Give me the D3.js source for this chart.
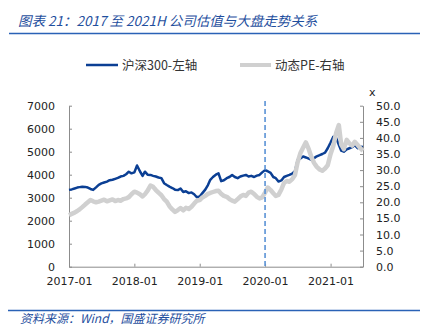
<!DOCTYPE html>
<html>
<head>
<meta charset="utf-8">
<script src="https://cdn.jsdelivr.net/npm/d3@7/dist/d3.min.js"></script>
<style>
  html, body { margin: 0; padding: 0; background: #fff; }
  svg { display: block; }
</style>
</head>
<body>
<svg id="chart" width="433" height="334"></svg>
<script>
// ---------- DATA ----------
const titleText = "图表 21：2017 至 2021H 公司估值与大盘走势关系";
const sourceText = "资料来源：Wind，国盛证券研究所";
const seriesNames = ["沪深300-左轴", "动态PE-右轴"];
const startDate = "2017-01-01";   // semi-monthly sampling from here
const xTickLabels = ["2017-01", "2018-01", "2019-01", "2020-01", "2021-01"];
const leftTicks = [0, 1000, 2000, 3000, 4000, 5000, 6000, 7000];
const rightTicks = [0, 5, 10, 15, 20, 25, 30, 35, 40, 45, 50];
const markerDate = "2020-01";

const csi300 = [
  // 2017
  3340, 3360, 3400, 3440, 3460, 3480, 3470, 3440, 3380, 3340, 3450, 3560,
  3620, 3660, 3700, 3760, 3780, 3820, 3860, 3920, 3950, 4020, 4130, 4060,
  // 2018
  4100, 4400, 4150, 3950, 4130, 4000, 3990, 3950, 3920, 3880, 3850, 3630,
  3550, 3480, 3420, 3350, 3330, 3400, 3250, 3280, 3200, 3230, 3150, 3020,
  // 2019
  3050, 3200, 3350, 3550, 3780, 3900, 4000, 4060, 3720, 3760, 3850, 3900,
  3990, 3900, 3850, 3920, 3960, 3990, 3920, 3950, 3900, 3960, 3990, 4100,
  // 2020
  4200, 4150, 4080, 3900, 3850, 3700, 3750, 3900, 3950, 3990, 4050, 4150,
  4640, 4700, 4790, 4750, 4700, 4650, 4720, 4800, 4850, 4900, 4960, 5150,
  // 2021
  5400, 5650, 5600, 5300, 5050, 5000, 5100, 5150, 5200, 5280, 5150, 5220, 5200
];

const pe = [
  // 2017
  16.0, 16.4, 16.8, 17.3, 17.8, 18.5, 19.3, 20.0, 20.7, 20.3, 20.0, 20.2,
  20.5, 20.8, 20.3, 20.6, 20.9, 20.4, 20.7, 20.5, 21.0, 21.2, 21.6, 22.5,
  // 2018
  23.3, 23.0, 22.5, 21.8, 22.5, 23.6, 25.2, 24.8, 23.8, 23.0, 22.2, 21.0,
  20.2, 18.8, 17.8, 17.0, 17.6, 18.2, 17.5, 18.3, 17.9, 18.6, 19.6, 20.5,
  // 2019
  20.7, 21.5, 22.0, 22.6, 22.9, 23.2, 23.5, 23.6, 22.6, 22.0, 21.7, 21.0,
  20.5, 20.2, 21.0, 21.8, 22.3, 22.0, 23.0, 23.3, 22.6, 21.7, 21.2, 21.5,
  // 2020
  23.0, 24.6, 23.8, 22.8, 22.0, 22.3, 24.0, 26.0, 26.6, 26.4, 27.2, 28.5,
  32.5, 35.2, 37.0, 38.6, 36.5, 34.0, 32.2, 31.0, 30.2, 29.8, 30.5, 31.5,
  // 2021
  35.0, 37.5, 41.5, 44.0, 38.0, 36.5, 39.4, 38.3, 37.6, 38.8, 37.8, 36.8, 36.0
];

// ---------- BUILD ----------
const parseDay = d3.timeParse("%Y-%m-%d");
const parseMonth = d3.timeParse("%Y-%m");
const t0 = parseDay(startDate);
const dates = csi300.map((_, i) => {
  const m = d3.timeMonth.offset(t0, Math.floor(i / 2));
  return i % 2 === 0 ? m : d3.timeDay.offset(m, 15);
});

const svg = d3.select("#chart");
const plot = { left: 69, right: 363, top: 105.7, bottom: 266.7 };

const x = d3.scaleTime()
  .domain([t0, dates[dates.length - 1]])
  .range([plot.left, plot.right]);
const yL = d3.scaleLinear().domain([0, 7000]).range([plot.bottom, plot.top]);
const yR = d3.scaleLinear().domain([0, 50]).range([plot.bottom, plot.top]);

const blue = "#0b3f94";
const grey = "#d0d0d0";
const titleBlue = "#1f4f9e";
const axisColor = "#8c8c8c";
const textColor = "#222";
const tickFont = "'DejaVu Sans', Verdana, sans-serif";
const cjkFont = "'Noto Sans CJK SC', 'Noto Sans', sans-serif";

// Title
svg.append("text")
  .attr("x", 18).attr("y", 26)
  .attr("font-family", cjkFont)
  .attr("font-style", "italic")
  .attr("font-size", 13.5)
  .attr("fill", titleBlue)
  .text(titleText);
svg.append("line")
  .attr("x1", 9).attr("x2", 420).attr("y1", 33.5).attr("y2", 33.5)
  .attr("stroke", "#2a62b6").attr("stroke-width", 1.6);

// Legend
const legend = [
  { name: seriesNames[0], color: blue, w: 2.5, x1: 86, x2: 118, tx: 122 },
  { name: seriesNames[1], color: grey, w: 4, x1: 240, x2: 271, tx: 275 }
];
legend.forEach(l => {
  svg.append("line")
    .attr("x1", l.x1).attr("x2", l.x2).attr("y1", 65).attr("y2", 65)
    .attr("stroke", l.color).attr("stroke-width", l.w);
  svg.append("text")
    .attr("x", l.tx).attr("y", 69.5)
    .attr("font-family", cjkFont).attr("font-size", 12.5)
    .attr("fill", "#333")
    .text(l.name);
});

// Axes
function styleAxis(g) {
  g.selectAll("path.domain").attr("stroke", axisColor).attr("stroke-width", 1);
  g.selectAll(".tick line").attr("stroke", axisColor);
  g.selectAll("text").attr("fill", textColor)
    .attr("font-family", tickFont).attr("font-size", 11);
}

svg.append("g")
  .attr("transform", `translate(${plot.left},0)`)
  .call(d3.axisLeft(yL).tickValues(leftTicks).tickFormat(d3.format("d"))
    .tickSizeInner(-3).tickSizeOuter(0).tickPadding(14))
  .call(styleAxis);

svg.append("g")
  .attr("transform", `translate(${plot.right},0)`)
  .call(d3.axisRight(yR).tickValues(rightTicks).tickFormat(d3.format(".1f"))
    .tickSizeInner(-3).tickSizeOuter(0).tickPadding(13))
  .call(styleAxis);

svg.append("g")
  .attr("transform", `translate(0,${plot.bottom})`)
  .call(d3.axisBottom(x).tickValues(xTickLabels.map(parseMonth))
    .tickFormat(d3.timeFormat("%Y-%m"))
    .tickSizeInner(-3).tickSizeOuter(0).tickPadding(11))
  .call(styleAxis);

// "x" unit label on right axis
svg.append("text")
  .attr("x", 369).attr("y", 96)
  .attr("font-family", tickFont).attr("font-size", 11)
  .attr("fill", textColor)
  .text("x");

// Lines
const lineL = d3.line().x((d, i) => x(dates[i])).y(d => yL(d));
const lineR = d3.line().x((d, i) => x(dates[i])).y(d => yR(d));

svg.append("path").datum(csi300)
  .attr("d", lineL).attr("fill", "none")
  .attr("stroke", blue).attr("stroke-width", 2.5)
  .attr("stroke-linejoin", "round");

svg.append("path").datum(pe)
  .attr("d", lineR).attr("fill", "none")
  .attr("stroke", grey).attr("stroke-width", 4.5)
  .attr("stroke-linejoin", "round");

// Dashed marker at 2020-01
const mx = x(parseMonth(markerDate));
svg.append("line")
  .attr("x1", mx).attr("x2", mx).attr("y1", 101).attr("y2", plot.bottom)
  .attr("stroke", "#5b93d6").attr("stroke-width", 1.6)
  .attr("stroke-dasharray", "5,3");

// Footer
svg.append("line")
  .attr("x1", 8).attr("x2", 420).attr("y1", 310.5).attr("y2", 310.5)
  .attr("stroke", "#2a62b6").attr("stroke-width", 1.3);
svg.append("text")
  .attr("x", 20).attr("y", 323)
  .attr("font-family", cjkFont)
  .attr("font-style", "italic")
  .attr("font-size", 12)
  .attr("fill", titleBlue)
  .text(sourceText);
</script>
</body>
</html>
